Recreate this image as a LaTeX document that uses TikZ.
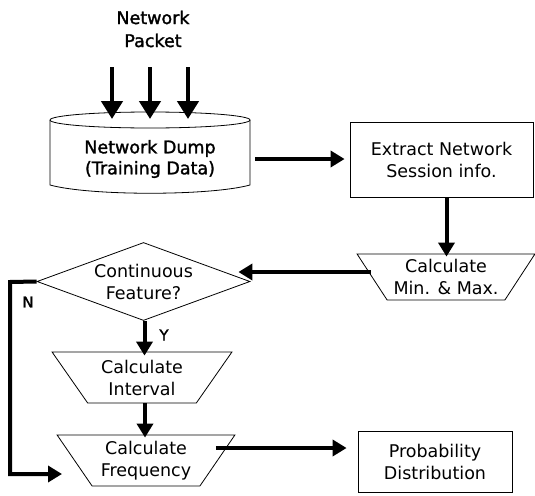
\documentclass[tikz,border=0pt]{standalone}
\usepackage{fontspec}
\setmainfont{DejaVu Sans}
\newfontfamily\heavyfont{DejaVu Sans}[FakeBold=1.6]
\usetikzlibrary{arrows.meta,shapes.geometric}

\tikzset{
  txt/.style={font=\fontsize{17.5pt}{22pt}\selectfont, align=center, inner sep=0pt},
  boxnode/.style={txt, draw, line width=0.8pt, rectangle},
  trapnode/.style={txt, draw, line width=0.8pt, trapezium, shape border rotate=180,
    trapezium stretches=true, trapezium left angle=53, trapezium right angle=53},
  decision/.style={txt, draw, line width=0.8pt, diamond, aspect=2.7},
  bigarrow/.style={line width=4.5pt, -{Triangle[length=18pt,width=21pt]}},
  flow/.style={line width=4pt, -{Triangle[length=14pt,width=16pt]}},
}

\begin{document}
\begin{tikzpicture}[x=1pt, y=-1pt]
  \useasboundingbox (0,0) rectangle (535,495);

  % incoming packets
  \node[txt, font=\heavyfont\fontsize{17.5pt}{23pt}\selectfont] (pk) at (153,29) {Network\\Packet};
  \coordinate (p1) at (112,67);  \coordinate (t1) at (112,119);
  \coordinate (p2) at (150,67);  \coordinate (t2) at (150,119);
  \coordinate (p3) at (188,67);  \coordinate (t3) at (188,119);
  \draw[bigarrow] (p1) -- (t1);
  \draw[bigarrow] (p2) -- (t2);
  \draw[bigarrow] (p3) -- (t3);

  % database cylinder
  \node[txt, font=\heavyfont\fontsize{17.5pt}{21pt}\selectfont, minimum width=200pt, minimum height=74pt] (db) at (150,159) {Network Dump\\(Training Data)};
  \draw[line width=0.8pt] (50,120) -- (50,185) .. controls (90,196) and (210,196) .. (250,185) -- (250,120);
  \draw[line width=0.8pt] (150,120) ellipse [x radius=100pt, y radius=8pt];

  % processing steps
  \node[boxnode, minimum width=183pt, minimum height=75pt] (ext) at (441.5,159.5) {Extract Network\\Session info.};
  \node[trapnode, minimum width=178pt, minimum height=46pt] (mm) at (446,277) {Calculate\\Min. \& Max.};
  \node[decision, minimum width=213pt, minimum height=78pt] (cf) at (143.5,281.5) {Continuous\\Feature?};
  \node[trapnode, minimum width=180pt, minimum height=51pt] (iv) at (142,377.5) {Calculate\\Interval};
  \node[trapnode, minimum width=178pt, minimum height=51pt] (fq) at (146,460.5) {Calculate\\Frequency};
  \node[boxnode, minimum width=154pt, minimum height=61pt] (pd) at (435,461.5) {Probability\\Distribution};

  % connectors: anchor points on each source, arrows run straight to the target
  \coordinate (a1) at ([xshift=5pt]db.east);
  \coordinate (a2) at ([xshift=5pt]ext.south);
  \coordinate (a3) at ([xshift=-1pt,yshift=5pt]mm.west);
  \coordinate (a4) at ([xshift=1pt]cf.south);
  \coordinate (a5) at ([xshift=3pt]iv.south);
  \coordinate (a6) at ([xshift=-2pt,yshift=12.5pt]fq.east);
  \draw[flow] (a1) -- ([xshift=-5pt]a1 -| ext.west);
  \draw[flow] (a2) -- ([yshift=-3pt]a2 |- mm.north);
  \draw[flow] (a3) -- ([xshift=-12pt]a3 -| cf.east);
  \draw[flow] (a4) -- ([yshift=-4pt]a4 |- iv.north);
  \draw[flow] (a5) -- ([yshift=-3pt]a5 |- fq.north);
  \draw[flow] (a6) -- ([xshift=-11pt]a6 -| pd.west);
  \coordinate (nc) at (10,282);
  \coordinate (fin) at (62,474);
  \draw[flow] (cf.west) -- (nc) |- (fin);

  % branch labels
  \node[txt, font=\heavyfont\fontsize{15pt}{18pt}\selectfont] (ylab) at (164,335) {Y};
  \node[txt, font=\heavyfont\fontsize{15pt}{18pt}\selectfont] (nlab) at (28,302) {N};
\end{tikzpicture}
\end{document}
